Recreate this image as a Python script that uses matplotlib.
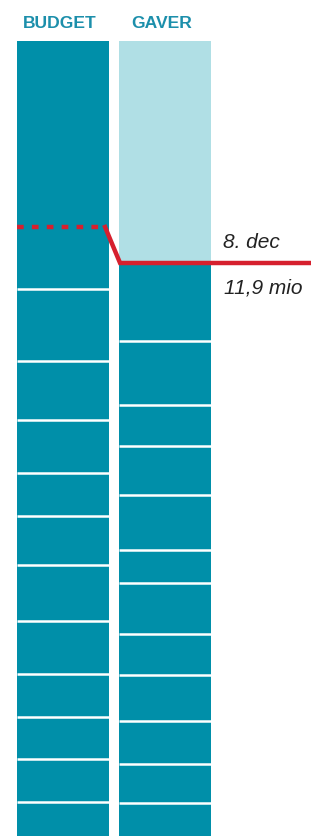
import numpy as np
import matplotlib.pyplot as plt

# segment sizes, read from the top of each column downwards
budget_segments = [248, 72, 59, 53, 43, 49, 56, 53, 43, 42, 43, 60]
gaver_remaining = 222          # light part of the gifts column
gaver_segments = [78, 64, 41, 49, 55, 33, 51, 41, 46, 43, 39, 60]

budget_mark = 186              # dashed red level inside the budget column
labels = ["BUDGET", "GAVER"]
mark_date = "8. dec"
mark_amount = "11,9 mio"

dark = "#008fa9"
light = "#b0dfe5"
red = "#d6202e"
label_col = "#1c8fab"

fig = plt.figure(figsize=(3.11, 8.36), dpi=100)
ax = fig.add_axes([0, 0, 1, 1])
ax.set_xlim(0, 311)
ax.set_ylim(836 - 41, -41)
ax.axis("off")

xb, xg, w = 62.8, 164.8, 92.5

# budget column
tops = np.concatenate([[0], np.cumsum(budget_segments)[:-1]])
ax.bar([xb] * len(budget_segments), budget_segments, bottom=tops, width=w,
       color=dark, align="center")
ax.hlines(tops[1:], xb - w / 2, xb + w / 2, colors="white", linewidth=1.8)

# gifts column
ax.bar(xg, gaver_remaining, bottom=0, width=w, color=light)
gtops = gaver_remaining + np.concatenate([[0], np.cumsum(gaver_segments)[:-1]])
ax.bar([xg] * len(gaver_segments), gaver_segments, bottom=gtops, width=w,
       color=dark)
ax.hlines(gtops[1:], xg - w / 2, xg + w / 2, colors="white", linewidth=1.8)

# red marker line
ax.plot([xb - w / 2, xb + w / 2 - 4], [budget_mark, budget_mark], color=red,
        linewidth=3.2, dashes=(1.5, 1.85), dash_capstyle="butt")
ax.plot([xb + w / 2 - 4, xg - w / 2 + 1.5, 311], [budget_mark, gaver_remaining, gaver_remaining],
        color=red, linewidth=3.2, solid_joinstyle="miter")

for x, lab in zip([xb, xg], labels):
    ax.text(x - 3, -13, lab, ha="center", va="baseline", fontsize=12.6,
            fontweight="bold", color=label_col, family="Liberation Sans")

ax.text(223, 207, mark_date, ha="left", va="baseline", fontsize=15,
        style="italic", color="#222222", family="Liberation Sans")
ax.text(224, 252, mark_amount, ha="left", va="baseline", fontsize=15,
        style="italic", color="#222222", family="Liberation Sans")

fig.savefig("out.png", dpi=100)
